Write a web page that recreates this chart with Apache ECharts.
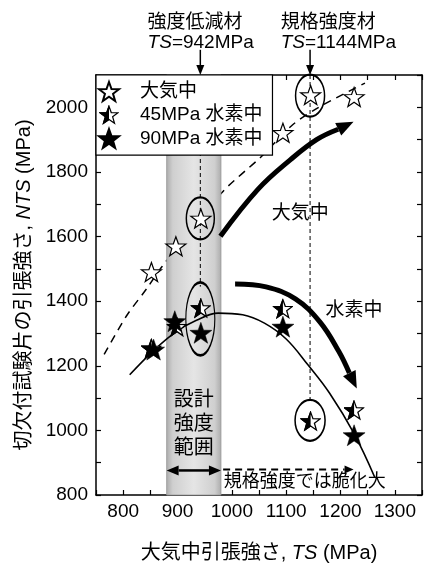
<!DOCTYPE html>
<html><head><meta charset="utf-8">
<script src="https://cdn.jsdelivr.net/npm/echarts@6/dist/echarts.min.js"></script>
<style>html,body{margin:0;padding:0;background:#fff}#c{width:425px;height:568px}</style>
</head><body><div id="c"></div>
<script>
// ---------- data ----------
const xTicks = [800, 900, 1000, 1100, 1200, 1300];
const yTicks = [800, 1000, 1200, 1400, 1600, 1800, 2000];
const seriesNames = ['大気中', '45MPa 水素中', '90MPa 水素中'];
const airTS  = [852, 897, 943, 1094, 1145, 1225];
const airNTS = [1490, 1570, 1656, 1921, 2038, 2032];
const h45TS  = [852, 899, 943, 1094, 1145, 1225];
const h45NTS = [1253, 1320, 1378, 1376, 1028, 1062];
const h90TS  = [856, 895, 943, 1094, 1225];
const h90NTS = [1250, 1338, 1302, 1321, 985];
const airTrendTS  = [765, 806, 843, 872, 981, 1054, 1112, 1160, 1245];
const airTrendNTS = [1235, 1354, 1438, 1508, 1735, 1847, 1946, 2000, 2075];
const h2TrendTS  = [812, 854, 897, 934, 975, 1020, 1060, 1100, 1140, 1180, 1225, 1263];
const h2TrendNTS = [1172, 1244, 1305, 1340, 1363, 1358, 1332, 1283, 1203, 1115, 990, 855];
const airArrowTS  = [979, 1048, 1108, 1156, 1224];
const airArrowNTS = [1601, 1746, 1838, 1900, 1955];
const h2ArrowTS  = [1006, 1063, 1117, 1162, 1197, 1230];
const h2ArrowNTS = [1453, 1444, 1407, 1336, 1244, 1130];
const bandTS = [880, 980];
const markTS = [942, 1144];
const ellipseTS  = [942, 942, 1144, 1144];
const ellipseNTS = [1656, 1345, 2036, 1031];

const FONT = "'Liberation Sans', 'Noto Sans CJK JP', sans-serif";
const zip = (a, b) => a.map((v, i) => [v, b[i]]);

function starPoints(cx, cy, R, r) {
  const pts = [];
  for (let i = 0; i < 10; i++) {
    const a = (-90 + i * 36) * Math.PI / 180;
    const rr = i % 2 ? r : R;
    pts.push([cx + rr * Math.cos(a), cy + rr * Math.sin(a)]);
  }
  return pts;
}
const sp = starPoints(50, 53, 47, 19);
const STAR_PATH = 'path://M' + sp.map(p => p[0].toFixed(2) + ' ' + p[1].toFixed(2)).join(' L') + ' Z';
const ptsStr = sp.map(p => p[0].toFixed(2) + ',' + p[1].toFixed(2)).join(' ');
const halfSvg = '<svg xmlns="http://www.w3.org/2000/svg" width="60" height="60" viewBox="0 0 100 100">' +
  '<defs><clipPath id="h"><rect x="0" y="0" width="50" height="100"/></clipPath></defs>' +
  '<polygon points="' + ptsStr + '" fill="#fff" stroke="#000" stroke-width="6"/>' +
  '<polygon points="' + ptsStr + '" fill="#000" stroke="#000" stroke-width="6" clip-path="url(#h)"/></svg>';
const HALF_STAR = 'image://data:image/svg+xml;charset=utf-8,' + encodeURIComponent(halfSvg);

const chart = echarts.init(document.getElementById('c'), null, {renderer: 'canvas'});

function arrowHead(tip, from, L, W) {
  const dx = tip[0] - from[0], dy = tip[1] - from[1];
  const len = Math.hypot(dx, dy) || 1;
  const ux = dx / len, uy = dy / len;
  const bx = tip[0] - ux * L, by = tip[1] - uy * L;
  const nx = -uy, ny = ux;
  return {
    base: [bx, by],
    poly: [tip, [bx + nx * W / 2, by + ny * W / 2], [bx - nx * W / 2, by - ny * W / 2]]
  };
}

function renderBand(params, api) {
  const a = api.coord([bandTS[0], 2100]);
  const b = api.coord([bandTS[1], 800]);
  const grad = new echarts.graphic.LinearGradient(0, 0, 1, 0, [
    {offset: 0, color: '#ababab'}, {offset: 0.12, color: '#cfcfcf'},
    {offset: 0.5, color: '#e5e5e5'}, {offset: 0.88, color: '#cfcfcf'}, {offset: 1, color: '#ababab'}
  ]);
  return {type: 'rect', shape: {x: a[0], y: a[1], width: b[0] - a[0], height: b[1] - a[1]},
    style: {fill: grad, stroke: '#999', lineWidth: 0.8}};
}

function renderAnno(params, api) {
  const c = (x, y) => api.coord([x, y]);
  const ch = [];
  const black = '#000';
  // dashed vertical guide lines
  const v1a = c(markTS[0], 2100), v1b = c(markTS[0], 1445);
  ch.push({type: 'line', shape: {x1: v1a[0], y1: v1a[1], x2: v1b[0], y2: v1b[1]}, style: {stroke: black, lineWidth: 1, lineDash: [4, 3]}});
  const v2a = c(markTS[1], 2100), v2b = c(markTS[1], 1094);
  ch.push({type: 'line', shape: {x1: v2a[0], y1: v2a[1], x2: v2b[0], y2: v2b[1]}, style: {stroke: black, lineWidth: 1, lineDash: [4, 3]}});
  // arrows from labels
  markTS.forEach(t => {
    const s = c(t, 2178), e = c(t, 2100);
    const h = arrowHead(e, s, 10, 8);
    ch.push({type: 'line', shape: {x1: s[0], y1: s[1], x2: h.base[0], y2: h.base[1]}, style: {stroke: black, lineWidth: 1.5}});
    ch.push({type: 'polygon', shape: {points: h.poly}, style: {fill: black}});
  });
  // thick curved arrows
  [[airArrowTS, airArrowNTS], [h2ArrowTS, h2ArrowNTS]].forEach(([xs, ys]) => {
    const pts = xs.map((x, i) => c(x, ys[i]));
    const tip = pts[pts.length - 1];
    const h = arrowHead(tip, pts[pts.length - 2], 17, 14);
    const line = pts.slice(0, -1).concat([h.base]);
    ch.push({type: 'polyline', shape: {points: line, smooth: 0.4}, style: {stroke: black, lineWidth: 5, fill: null}});
    ch.push({type: 'polygon', shape: {points: h.poly}, style: {fill: black}});
  });
  // bottom double arrow (design range)
  const yb = 876;
  const l = c(bandTS[0], yb), r = c(bandTS[1], yb);
  const hl = arrowHead(l, r, 12, 10), hr = arrowHead(r, l, 12, 10);
  ch.push({type: 'line', shape: {x1: hl.base[0], y1: hl.base[1], x2: hr.base[0], y2: hr.base[1]}, style: {stroke: black, lineWidth: 2.5}});
  ch.push({type: 'polygon', shape: {points: hl.poly}, style: {fill: black}});
  ch.push({type: 'polygon', shape: {points: hr.poly}, style: {fill: black}});
  // dashed arrow
  const ds = c(bandTS[1] + 4, yb + 3), de = c(1224, yb + 3);
  const hd = arrowHead(de, ds, 9, 8);
  ch.push({type: 'line', shape: {x1: ds[0], y1: ds[1], x2: hd.base[0], y2: hd.base[1]}, style: {stroke: black, lineWidth: 2, lineDash: [7, 5]}});
  ch.push({type: 'polygon', shape: {points: hd.poly}, style: {fill: black}});
  // texts
  const txt = (p, text, size, align, rich) => ({type: 'text', x: p[0], y: p[1],
    style: {text: text, fontSize: size, fontFamily: FONT, fill: black, align: align || 'center', verticalAlign: 'middle', rich: rich}});
  const it = {i: {fontStyle: 'italic', fontSize: 19, fontFamily: FONT, fill: black}};
  ch.push(txt(c(845, 2263), '強度低減材', 19, 'left'));
  ch.push(txt(c(845, 2199), '{i|TS}=942MPa', 19, 'left', it));
  ch.push(txt(c(1090, 2263), '規格強度材', 19, 'left'));
  ch.push(txt(c(1090, 2199), '{i|TS}=1144MPa', 19, 'left', it));
  ch.push(txt(c(1126, 1669), '大気中', 19));
  ch.push(txt(c(1225, 1370), '水素中', 19));
  ch.push(txt(c(930, 1093), '設計', 20));
  ch.push(txt(c(930, 1018), '強度', 20));
  ch.push(txt(c(930, 945), '範囲', 20));
  ch.push(txt(c(1134, 840), '規格強度では脆化大', 18));
  return {type: 'group', children: ch};
}

const ellipseSizes = [[28, 42], [29, 73], [29, 42], [30, 41]];

const axisCommon = {
  type: 'value', splitLine: {show: false},
  axisLine: {show: true, onZero: false, lineStyle: {color: '#000', width: 1.5}},
  axisTick: {show: true, inside: true, length: 5, lineStyle: {color: '#000', width: 1.2}}
};

chart.setOption({
  animation: false,
  backgroundColor: '#fff',
  textStyle: {fontFamily: FONT},
  grid: {left: 96, top: 75, width: 330, height: 422, containLabel: false},
  legend: {
    data: seriesNames, orient: 'vertical', left: 96, top: 75,
    itemWidth: 20, itemHeight: 20, itemGap: 3,
    padding: [6, 10, 6, 2],
    backgroundColor: '#fff', borderColor: '#000', borderWidth: 1.2, borderRadius: 0,
    textStyle: {fontSize: 19, color: '#000', fontFamily: FONT, padding: [0, 0, 0, 16]},
    selectedMode: false, z: 10
  },
  xAxis: [
    Object.assign({}, axisCommon, {min: 750, max: 1350, interval: 50, position: 'bottom',
      axisLabel: {margin: 7, fontSize: 19, color: '#000', fontFamily: FONT, formatter: v => xTicks.includes(v) ? String(v) : ''},
      name: '{a|大気中引張強さ, }{b|TS}{a| (MPa)}', nameLocation: 'middle', nameGap: 48,
      nameTextStyle: {rich: {a: {fontSize: 20, fontFamily: FONT, color: '#000'}, b: {fontSize: 20, fontFamily: FONT, fontStyle: 'italic', color: '#000'}}}}),
    Object.assign({}, axisCommon, {min: 750, max: 1350, interval: 50, position: 'top', axisLabel: {show: false}})
  ],
  yAxis: [
    Object.assign({}, axisCommon, {min: 800, max: 2100, interval: 100, position: 'left',
      axisLabel: {margin: 8, fontSize: 19, color: '#000', fontFamily: FONT, formatter: v => yTicks.includes(v) ? String(v) : ''},
      name: '{a|切欠付試験片の引張強さ, }{b|NTS}{a| (MPa)}', nameLocation: 'middle', nameGap: 62,
      nameTextStyle: {rich: {a: {fontSize: 20, fontFamily: FONT, color: '#000'}, b: {fontSize: 20, fontFamily: FONT, fontStyle: 'italic', color: '#000'}}}}),
    Object.assign({}, axisCommon, {min: 800, max: 2100, interval: 100, position: 'right', axisLabel: {show: false}})
  ],
  series: [
    {type: 'line', data: zip(airTrendTS, airTrendNTS), smooth: 0.3, showSymbol: false, silent: true, z: 1,
      lineStyle: {color: '#000', width: 1.5, type: [8, 6]}},
    {type: 'custom', data: [[800, 800]], renderItem: renderBand, silent: true, z: 2},
    {type: 'line', data: zip(h2TrendTS, h2TrendNTS), smooth: 0.4, showSymbol: false, silent: true, z: 3,
      lineStyle: {color: '#000', width: 1.6}},
    {type: 'custom', data: [[800, 800]], renderItem: renderAnno, silent: true, z: 4},
    {type: 'scatter', data: zip(ellipseTS, ellipseNTS).map((p, i) => ({value: p, symbolSize: ellipseSizes[i]})),
      symbol: 'circle', silent: true, z: 4,
      itemStyle: {color: 'rgba(0,0,0,0)', borderColor: '#000', borderWidth: 1.8, opacity: 1}},
    {type: 'scatter', name: seriesNames[0], data: zip(airTS, airNTS), symbol: STAR_PATH, symbolKeepAspect: true,
      symbolSize: 20, silent: true, z: 5, itemStyle: {color: '#fff', borderColor: '#000', borderWidth: 1.2, opacity: 1}},
    {type: 'scatter', name: seriesNames[1], data: zip(h45TS, h45NTS), symbol: HALF_STAR,
      symbolSize: 21, silent: true, z: 6, itemStyle: {color: '#000', opacity: 1}},
    {type: 'scatter', name: seriesNames[2], data: zip(h90TS, h90NTS), symbol: STAR_PATH, symbolKeepAspect: true,
      symbolSize: 22, silent: true, z: 6, itemStyle: {color: '#000', borderColor: '#000', borderWidth: 0.5, opacity: 1}}
  ]
});
</script></body></html>
